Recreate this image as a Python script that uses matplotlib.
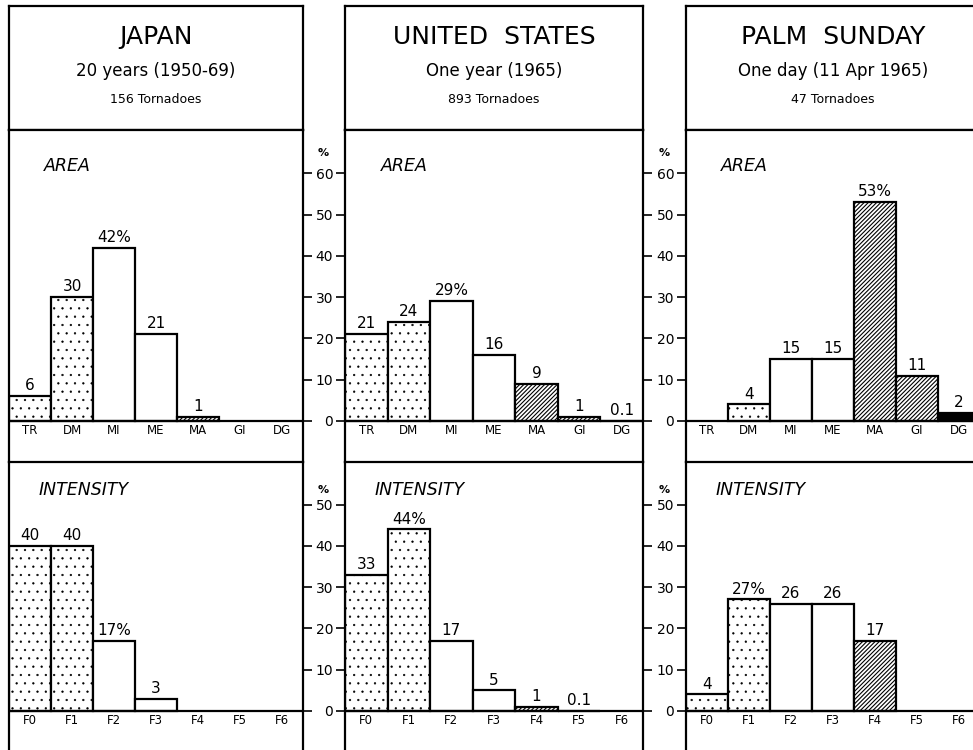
import matplotlib.pyplot as plt
import numpy as np

# tornado statistics: Japan / United States / Palm Sunday outbreak
titles = ['JAPAN', 'UNITED  STATES', 'PALM  SUNDAY']
periods = ['20 years (1950-69)', 'One year (1965)', 'One day (11 Apr 1965)']
counts = ['156 Tornadoes', '893 Tornadoes', '47 Tornadoes']

area_cats = ['TR', 'DM', 'MI', 'ME', 'MA', 'GI', 'DG']
int_cats = ['F0', 'F1', 'F2', 'F3', 'F4', 'F5', 'F6']

japan_area = [6, 30, 42, 21, 1, 0, 0]
us_area = [21, 24, 29, 16, 9, 1, 0.1]
palm_area = [0, 4, 15, 15, 53, 11, 2]

japan_int = [40, 40, 17, 3, 0, 0, 0]
us_int = [33, 44, 17, 5, 1, 0.1, 0]
palm_int = [4, 27, 26, 26, 17, 0, 0]

japan_area_lbl = ['6', '30', '42%', '21', '1', '', '']
us_area_lbl = ['21', '24', '29%', '16', '9', '1', '0.1']
palm_area_lbl = ['', '4', '15', '15', '53%', '11', '2']

japan_int_lbl = ['40', '40', '17%', '3', '', '', '']
us_int_lbl = ['33', '44%', '17', '5', '1', '0.1', '']
palm_int_lbl = ['4', '27%', '26', '26', '17', '', '']

area_ticks = [0, 10, 20, 30, 40, 50, 60]
int_ticks = [0, 10, 20, 30, 40, 50]

# fill style for each class
area_fill = ['dot', 'dot', 'white', 'white', 'hatch', 'hatch', 'black']
int_fill = ['dot', 'dot', 'white', 'white', 'hatch', 'black', 'black']

W, H = 973, 750
plt.rcParams['font.family'] = 'DejaVu Sans'

fig = plt.figure(figsize=(W / 100, H / 100), dpi=100)


def px_axes(x, y, w, h):
    return fig.add_axes([x / W, 1 - (y + h) / H, w / W, h / H])


panel_x = [9, 345, 686]
panel_w = [294, 298, 294]
scale = 4.13  # pixels per percent
zero_area, zero_int = 421, 711
top_area, top_int, bot_int = 130, 462, 770

styles = {
    'dot': dict(facecolor='white', hatch='..', hlw=0.4),
    'white': dict(facecolor='white', hatch=None, hlw=1.0),
    'hatch': dict(facecolor='white', hatch='////////', hlw=0.8),
    'black': dict(facecolor='black', hatch=None, hlw=1.0),
}


def draw_bars(ax, vals, labels, cats, fills, ticks, pct_y, name, name_x, name_y,
              left_ticks, right_ticks):
    x = np.arange(len(vals))
    for i, v in enumerate(vals):
        if v <= 0:
            continue
        st = styles[fills[i]]
        with plt.rc_context({'hatch.linewidth': st['hlw']}):
            b = ax.bar(x[i], v, width=1.0, align='edge', color=st['facecolor'],
                       edgecolor='black', linewidth=1.6, hatch=st['hatch'], zorder=2)
        ax.bar_label(b, labels=[labels[i]], padding=2, fontsize=11)
    ax.axhline(0, color='black', lw=1.6, zorder=3)
    for i, c in enumerate(cats):
        ax.annotate(c, xy=(i + 0.5, 0), xytext=(0, -2), textcoords='offset points',
                    ha='center', va='top', fontsize=8.5)
    ax.text(name_x, name_y, name, transform=ax.get_yaxis_transform(),
            fontsize=12.5, fontstyle='italic', va='center', ha='left')
    ax.set_xlim(0, 7)
    ax.set_xticks([])
    ax.set_yticks(ticks)
    ax.tick_params(axis='y', left=left_ticks, labelleft=left_ticks,
                   right=right_ticks, labelright=False,
                   direction='out', width=1.2, length=6.5, labelsize=10, pad=2)
    if left_ticks:
        ax.annotate('%', xy=(0, pct_y), xycoords=('axes fraction', 'data'),
                    xytext=(-16, 0), textcoords='offset points',
                    ha='center', va='center', fontsize=8, fontweight='bold')
    for s in ax.spines.values():
        s.set_linewidth(1.6)
    ax.spines['bottom'].set_visible(False)


area_data = [japan_area, us_area, palm_area]
area_lbls = [japan_area_lbl, us_area_lbl, palm_area_lbl]
int_data = [japan_int, us_int, palm_int]
int_lbls = [japan_int_lbl, us_int_lbl, palm_int_lbl]

for k in range(3):
    x0, w = panel_x[k], panel_w[k]

    # header box
    hd = px_axes(x0, 6, w, 124)
    hd.set_xticks([])
    hd.set_yticks([])
    for s in hd.spines.values():
        s.set_linewidth(1.6)
    hd.text(0.5, 0.75, titles[k], ha='center', va='center', fontsize=18)
    hd.text(0.5, 0.476, periods[k], ha='center', va='center', fontsize=12)
    hd.text(0.5, 0.242, counts[k], ha='center', va='center', fontsize=9)

    # area chart
    ax = px_axes(x0, top_area, w, top_int - top_area)
    ax.set_ylim(-(top_int - zero_area) / scale, (zero_area - top_area) / scale)
    draw_bars(ax, area_data[k], area_lbls[k], area_cats, area_fill, area_ticks,
              65, 'AREA', 0.12, 61.7, left_ticks=(k > 0), right_ticks=(k < 2))

    # intensity chart
    ax = px_axes(x0, top_int, w, bot_int - top_int)
    ax.set_ylim(-(bot_int - zero_int) / scale, (zero_int - top_int) / scale)
    draw_bars(ax, int_data[k], int_lbls[k], int_cats, int_fill, int_ticks,
              53.6, 'INTENSITY', 0.1, 53.4, left_ticks=(k > 0), right_ticks=(k < 2))

fig.savefig('out.png', dpi=100)
